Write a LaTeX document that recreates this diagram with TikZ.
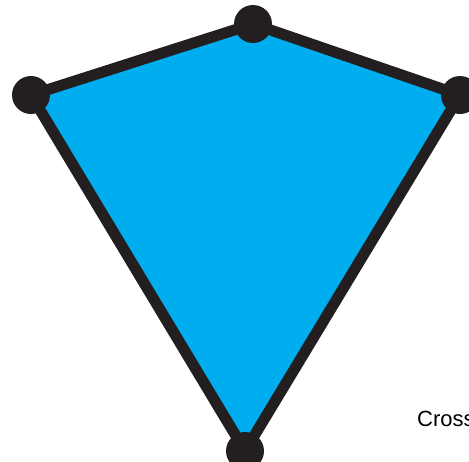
\documentclass[tikz,border=0pt]{standalone}
\usepackage{fontspec}
\setmainfont{Liberation Sans}
\usepackage{xcolor}
\usetikzlibrary{positioning}
\definecolor{kiteblue}{HTML}{00AEEF}
\definecolor{kiteink}{HTML}{231F20}

\begin{document}
\begin{tikzpicture}[x=1pt, y=-1pt,
    dot/.style={circle, fill=kiteink, inner sep=0pt, minimum size=38pt},
    edge/.style={draw=kiteink, line width=11pt, line join=round, fill=kiteblue},
    lbl/.style={font=\fontsize{22}{26}\selectfont, text=black, inner sep=0pt}]
  \useasboundingbox (0,0) rectangle (469,461);
  \coordinate (top) at (253,24);
  \coordinate (left) at (31,95);
  \coordinate (right) at (460,95);
  \coordinate (bottom) at (245,451);
  \path[edge] (top) -- (right) -- (bottom) -- (left) -- cycle;
  \node[dot] (vtop) at (top) {};
  \node[dot] (vleft) at (left) {};
  \node[dot] (vright) at (right) {};
  \node[dot] (vbottom) at (bottom) {};
  \node[lbl, anchor=base west] (cross) at (417,426) {Cross};
\end{tikzpicture}
\end{document}
